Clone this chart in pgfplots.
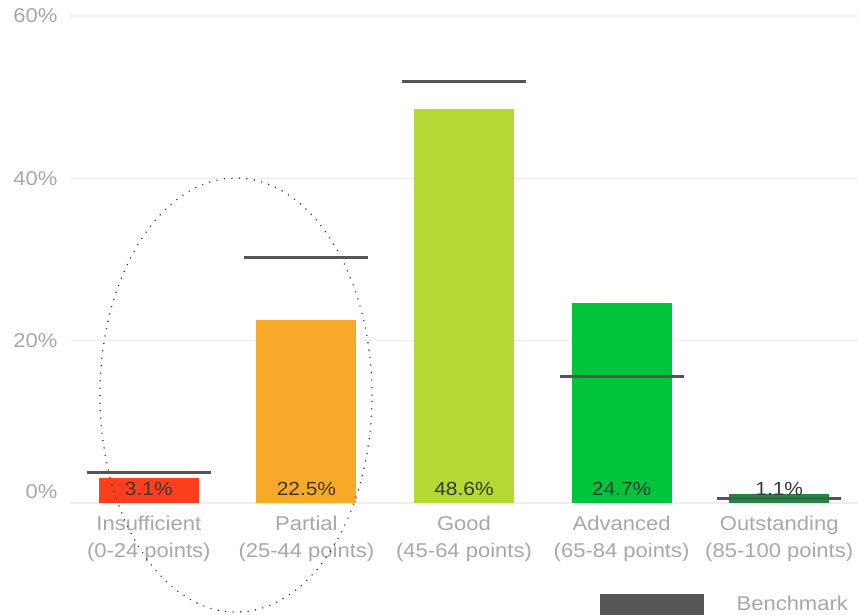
\documentclass[border=0pt]{standalone}
\usepackage{pgfplots}
\pgfplotsset{compat=1.18}
\usepackage{fontspec}
\setmainfont[FakeStretch=1.1]{Liberation Sans}

\definecolor{cInsuf}{HTML}{FD3F1E}
\definecolor{cPartial}{HTML}{F9A928}
\definecolor{cGood}{HTML}{B4D935}
\definecolor{cAdv}{HTML}{00C43A}
\definecolor{cOut}{HTML}{1C8B3B}
\definecolor{bench}{HTML}{555555}
\definecolor{tickgray}{HTML}{A8A8A8}
\definecolor{gridgray}{HTML}{EEEEEE}

\begin{document}
\begin{tikzpicture}
\useasboundingbox (-70pt,-111pt) rectangle (788pt,503pt);
\begin{axis}[
  scale only axis,
  width=788pt, height=487pt,
  xmin=-0.5, xmax=4.5,
  ymin=0, ymax=60,
  clip=false,
  axis line style={draw=none},
  tick style={draw=none},
  major tick length=0pt,
  /pgf/number format/assume math mode=true,
  ytick={20,40,60},
  extra y ticks={0},
  extra y tick style={yticklabel style={yshift=11pt}},
  yticklabel={\pgfmathprintnumber{\tick}\%},
  ymajorgrids,
  grid style={gridgray, line width=1.5pt},
  yticklabel style={font=\fontsize{20}{24}\selectfont, text=tickgray, xshift=-9pt},
  xtick={0,1,2,3,4},
  xticklabels={Insufficient\\(0-24 points), Partial\\(25-44 points), Good\\(45-64 points), Advanced\\(65-84 points), Outstanding\\(85-100 points)},
  xticklabel style={font=\fontsize{20}{27}\selectfont, text=tickgray, align=center, yshift=-9pt},
  ybar, bar width=100pt, bar shift=0pt,
  legend style={draw=none, fill=none, at={(rel axis cs:0.6726,-0.2218)}, anchor=west,
    font=\fontsize{20}{24}\selectfont, text=tickgray, inner sep=0pt},
  legend cell align=left,
  /tikz/every odd column/.append style={column sep=31pt},
]
\addplot[fill=cInsuf, draw=none, forget plot] coordinates {(0,3.1)};
\addplot[fill=cPartial, draw=none, forget plot] coordinates {(1,22.5)};
\addplot[fill=cGood, draw=none, forget plot] coordinates {(2,48.6)};
\addplot[fill=cAdv, draw=none, forget plot] coordinates {(3,24.7)};
\addplot[fill=cOut, draw=none, forget plot] coordinates {(4,1.1)};

% benchmark
\addplot[ybar=false, only marks, mark=-, mark size=62pt, mark options={draw=bench, line width=3pt},
  legend image code/.code={\fill[bench] (0pt,-24pt) rectangle (103pt,10pt);}]
  coordinates {(0,3.7) (1,30.2) (2,51.9) (3,15.6) (4,0.6)};
\addlegendentry{Benchmark}

% value labels at the base of the bars
\addplot[ybar=false, draw=none, mark=none, forget plot,
  nodes near coords, point meta=explicit symbolic,
  every node near coord/.style={anchor=center, yshift=14pt, text=black!78,
    font=\fontsize{19}{22}\selectfont}]
  coordinates {(0,0)[3.1\%] (1,0)[22.5\%] (2,0)[48.6\%] (3,0)[24.7\%] (4,0)[1.1\%]};

\draw[line width=1.6pt, line cap=round, dash pattern=on 0pt off 7.5pt, black!80]
  (axis cs:0.553,13.3) ellipse [x radius=136pt, y radius=217pt];
\end{axis}
\end{tikzpicture}
\end{document}
